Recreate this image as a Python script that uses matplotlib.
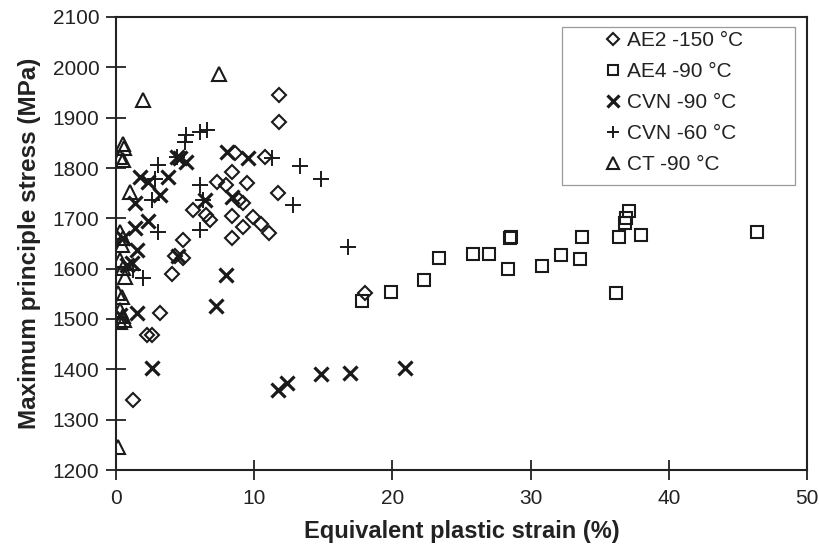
import matplotlib.pyplot as plt
from matplotlib.patches import Rectangle

plt.rcParams['font.family'] = ['Liberation Sans', 'DejaVu Sans']

# AE2 -150 C (diamonds)
ae2_x = [1.25, 2.22, 2.58, 3.18, 4.03, 4.27, 4.87, 4.87, 5.6, 6.5, 6.8, 7.29, 7.96, 8.37,
         8.37, 8.37, 8.6, 8.9, 9.2, 9.2, 9.46, 9.9, 10.5, 11.1, 10.8, 11.7, 11.8, 11.8, 18.0]
ae2_y = [1339, 1468, 1468, 1512, 1589, 1625, 1621, 1657, 1717, 1707, 1697, 1773, 1766, 1793,
         1705, 1660, 1829, 1736, 1730, 1683, 1770, 1703, 1689, 1671, 1822, 1750, 1892, 1946, 1551]

# AE4 -90 C (squares)
ae4_x = [17.8, 19.9, 22.3, 23.4, 25.8, 27.0, 28.4, 28.5, 28.6, 30.8, 32.2, 33.6, 33.7,
         36.2, 36.4, 36.8, 36.9, 37.1, 38.0, 46.4]
ae4_y = [1536, 1553, 1577, 1622, 1630, 1630, 1600, 1660, 1663, 1605, 1628, 1620, 1663,
         1551, 1662, 1690, 1700, 1715, 1666, 1672]

# CVN -90 C (crosses)
cvn90_x = [0.29, 0.53, 0.77, 1.14, 1.37, 1.37, 1.5, 1.5, 1.74, 2.34, 2.34, 2.58, 3.18, 3.78,
           4.39, 4.5, 4.63, 5.1, 6.44, 7.24, 7.96, 8.0, 8.37, 9.58, 11.75, 12.35, 14.8, 16.9, 20.9]
cvn90_y = [1508, 1660, 1607, 1611, 1680, 1730, 1511, 1637, 1783, 1773, 1695, 1403, 1746, 1783,
           1822, 1625, 1819, 1812, 1736, 1526, 1587, 1832, 1743, 1819, 1359, 1373, 1390, 1393, 1402]

# CVN -60 C (plus)
cvn60_x = [1.2, 1.98, 2.58, 2.82, 3.06, 3.06, 4.39, 5.0, 5.1, 6.08, 6.6, 6.08, 6.32, 6.08,
           11.3, 12.8, 13.3, 14.8, 16.8]
cvn60_y = [1598, 1581, 1736, 1779, 1806, 1673, 1822, 1852, 1865, 1872, 1875, 1766, 1736, 1677,
           1819, 1726, 1803, 1779, 1644]

# CT -90 C (triangles)
ct_x = [0.17, 0.15, 0.4, 0.3, 0.5, 0.3, 0.6, 0.3, 0.5, 0.65, 0.3, 0.5, 0.4, 0.3, 0.5, 0.5,
        0.6, 1.0, 1.93, 7.45]
ct_y = [1246, 1552, 1544, 1518, 1505, 1495, 1498, 1617, 1601, 1584, 1673, 1660, 1648, 1822,
        1816, 1848, 1840, 1753, 1936, 1987]

fig = plt.figure(figsize=(8.2, 5.49), dpi=100)
ax = fig.add_axes([116 / 820, 1 - 470 / 549, (807 - 116) / 820, (470 - 17) / 549])

k = dict(color='#1a1a1a', linestyle='none')
ax.plot(ae2_x, ae2_y, marker='D', markersize=7, markerfacecolor='none',
        markeredgewidth=1.5, label='AE2 -150 °C', **k)
ax.plot(ae4_x, ae4_y, marker='s', markersize=8.5, markerfacecolor='none',
        markeredgewidth=1.5, label='AE4 -90 °C', **k)
ax.plot(cvn90_x, cvn90_y, marker='x', markersize=10, markeredgewidth=2.3,
        label='CVN -90 °C', **k)
ax.plot(cvn60_x, cvn60_y, marker='+', markersize=11, markeredgewidth=1.4,
        label='CVN -60 °C', **k)
ax.plot(ct_x, ct_y, marker='^', markersize=10, markerfacecolor='none',
        markeredgewidth=1.5, label='CT -90 °C', **k)

ax.set_xlim(0, 50)
ax.set_ylim(1200, 2100)
ax.set_xticks(range(0, 51, 10))
ax.set_yticks(range(1200, 2101, 100))
ax.tick_params(direction='inout', length=14, width=1.3, labelsize=15, colors='#222222')
ax.tick_params(axis='x', pad=7)
ax.tick_params(axis='y', pad=5)
for s in ax.spines.values():
    s.set_linewidth(1.5)
    s.set_color('#222222')

ax.set_xlabel('Equivalent plastic strain (%)', fontsize=17, fontweight='bold',
              labelpad=8, color='#222222')
ax.set_ylabel('Maximum principle stress (MPa)', fontsize=17.5, fontweight='bold',
              labelpad=8, color='#222222')

# legend: entries without frame, frame drawn as a separate box
leg = ax.legend(loc='upper left', bbox_to_anchor=(606 / 820, 1 - 31 / 549),
                bbox_transform=fig.transFigure, borderaxespad=0, frameon=False,
                fontsize=15, handlelength=0.7, handletextpad=0.3, labelspacing=0.58,
                borderpad=0, markerscale=0.85, numpoints=1)
for t in leg.get_texts():
    t.set_color('#222222')
fig.patches.append(Rectangle((562 / 820, 1 - 185 / 549), (795 - 562) / 820, (185 - 27) / 549,
                             transform=fig.transFigure, fill=False, edgecolor='#9a9a9a',
                             linewidth=0.9))

fig.savefig('out.png', dpi=100)
